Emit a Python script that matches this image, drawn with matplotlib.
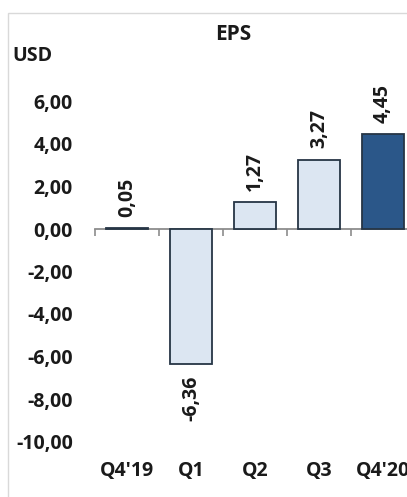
import numpy as np
import matplotlib
matplotlib.use("Agg")
import matplotlib.pyplot as plt
from matplotlib.patches import Rectangle

# quarterly EPS, USD
quarters = ["Q4'19", "Q1", "Q2", "Q3", "Q4'20"]
eps = [0.05, -6.36, 1.27, 3.27, 4.45]
yticks = [-10, -8, -6, -4, -2, 0, 2, 4, 6]

light = "#dce6f2"
dark = "#2b5789"
edge = "#263545"
colors = [light, light, light, light, dark]

plt.rcParams['font.family'] = ['Open Sans', 'DejaVu Sans']
plt.rcParams['font.weight'] = 'bold'

W, H = 407, 497
fig = plt.figure(figsize=(W / 100, H / 100), dpi=100)

# outer chart frame (runs off the right and bottom edges)
fig.patches.append(Rectangle((8 / W, -0.1), 1.2, 1 - 13 / H + 0.1,
                             transform=fig.transFigure, fill=False,
                             edgecolor="#d9d9d9", linewidth=1.0))

ax = fig.add_axes([95 / W, (H - 441.5) / H, 320 / W, 340 / H])
x = np.arange(len(quarters))
ax.bar(x, eps, width=0.67, color=colors, edgecolor=edge, linewidth=1.3, zorder=3)

ax.set_xlim(-0.5, len(quarters) - 0.5)
ax.set_ylim(-10, 6)

for s in ["top", "right", "left"]:
    ax.spines[s].set_visible(False)
ax.spines["bottom"].set_position(("data", 0))
ax.spines["bottom"].set_color("#8c8c8c")
ax.spines["bottom"].set_linewidth(1.3)

fs = 14
ax.set_xticks(x)
ax.set_xticklabels(quarters, fontsize=fs, fontweight="bold", color="#1a1a1a")
ax.set_xticks(np.arange(len(quarters) + 1) - 0.5, minor=True)
ax.tick_params(axis="x", which="major", length=0, pad=167)
ax.tick_params(axis="x", which="minor", length=5, width=1.2, color="#8c8c8c")

ax.set_yticks(yticks)
ax.set_yticklabels([f"{v:.2f}".replace(".", ",") for v in yticks],
                   fontsize=fs, fontweight="bold", color="#1a1a1a")
ax.tick_params(axis="y", length=0, pad=16)

for xi, v in zip(x, eps):
    txt = f"{v:.2f}".replace(".", ",")
    off = 8 if v >= 0 else -8
    ax.annotate(txt, (xi, v), xytext=(0, off), textcoords="offset points",
                rotation=90, ha="center", va="bottom" if v >= 0 else "top",
                fontsize=fs, fontweight="bold", color="#1a1a1a")

fig.text(233 / W, 1 - 35 / H, "EPS", ha="center", va="center",
         fontsize=15, fontweight="bold", color="#1a1a1a")
fig.text(12 / W, 1 - 56 / H, "USD", ha="left", va="center",
         fontsize=14, fontweight="bold", color="#1a1a1a")

fig.savefig("out.png", dpi=100)
